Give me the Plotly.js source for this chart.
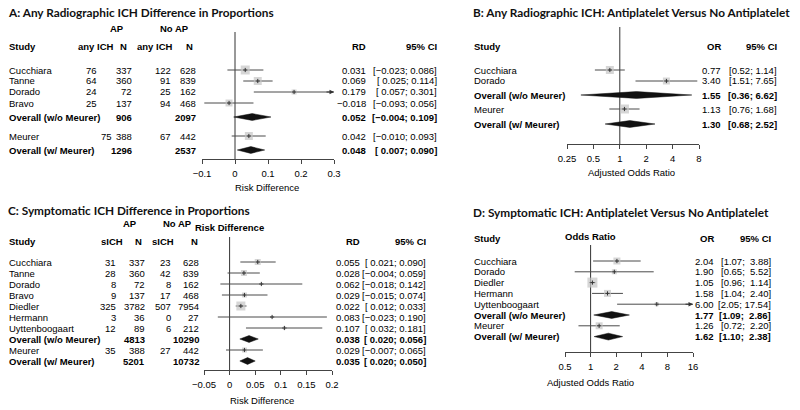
<!DOCTYPE html>
<html>
<head>
<meta charset="utf-8">
<script src="https://cdn.plot.ly/plotly-3.0.1.min.js"></script>
<style>
  html, body { margin: 0; padding: 0; background: #fff; }
  #chart { width: 800px; height: 410px; }
</style>
</head>
<body>
<div id="chart"></div>
<script>
// ---- A: any radiographic ICH, risk difference ----
const aStudy = ['Cucchiara', 'Tanne', 'Dorado', 'Bravo', 'Overall (w/o Meurer)', 'Meurer', 'Overall (w/ Meurer)'];
const aEvAP = [76, 64, 24, 25, null, 75, null];
const aNAP = [337, 360, 72, 137, 906, 388, 1296];
const aEvNo = [122, 91, 25, 94, null, 67, null];
const aNNo = [628, 839, 162, 468, 2097, 442, 2537];
const aEst = [0.031, 0.069, 0.179, -0.018, 0.052, 0.042, 0.048];
const aLo = [-0.023, 0.025, 0.057, -0.093, -0.004, -0.010, 0.007];
const aHi = [0.086, 0.114, 0.301, 0.056, 0.109, 0.093, 0.090];
const aBox = [9, 8, 5, 7, null, 8, null];
const aTicks = [-0.1, 0, 0.1, 0.2, 0.3];
const aTickText = ['\u22120.1', '0', '0.1', '0.2', '0.3'];

// ---- B: any radiographic ICH, adjusted OR ----
const bStudy = ['Cucchiara', 'Dorado', 'Overall (w/o Meurer)', 'Meurer', 'Overall (w/ Meurer)'];
const bEst = [0.77, 3.40, 1.55, 1.13, 1.30];
const bLo = [0.52, 1.51, 0.36, 0.76, 0.68];
const bHi = [1.14, 7.65, 6.62, 1.68, 2.52];
const bBox = [8, 7, null, 9, null];
const bTicks = [0.25, 0.5, 1, 2, 4, 8];

// ---- C: symptomatic ICH, risk difference ----
const cStudy = ['Cucchiara', 'Tanne', 'Dorado', 'Bravo', 'Diedler', 'Hermann', 'Uyttenboogaart',
  'Overall (w/o Meurer)', 'Meurer', 'Overall (w/ Meurer)'];
const cEvAP = [31, 28, 8, 9, 325, 3, 12, null, 35, null];
const cNAP = [337, 360, 72, 137, 3782, 36, 89, 4813, 388, 5201];
const cEvNo = [23, 42, 8, 17, 507, 0, 6, null, 27, null];
const cNNo = [628, 839, 162, 468, 7954, 27, 212, 10290, 442, 10732];
const cEst = [0.055, 0.028, 0.062, 0.029, 0.022, 0.083, 0.107, 0.038, 0.029, 0.035];
const cLo = [0.021, -0.004, -0.018, -0.015, 0.012, -0.023, 0.032, 0.020, -0.007, 0.020];
const cHi = [0.090, 0.059, 0.142, 0.074, 0.033, 0.190, 0.181, 0.056, 0.065, 0.050];
const cBox = [6, 6, 2, 5, 9, 2, 3, null, 5, null];
const cTicks = [-0.05, 0, 0.05, 0.1, 0.15, 0.2];
const cTickText = ['\u22120.05', '0', '0.05', '0.1', '0.15', '0.2'];

// ---- D: symptomatic ICH, adjusted OR ----
const dStudy = ['Cucchiara', 'Dorado', 'Diedler', 'Hermann', 'Uyttenboogaart',
  'Overall (w/o Meurer)', 'Meurer', 'Overall (w/ Meurer)'];
const dEst = [2.04, 1.90, 1.05, 1.58, 6.00, 1.77, 1.26, 1.62];
const dLo = [1.07, 0.65, 0.96, 1.04, 2.05, 1.09, 0.72, 1.10];
const dHi = [3.88, 5.52, 1.14, 2.40, 17.54, 2.86, 2.20, 2.38];
const dBox = [7, 5, 10, 7, 4, null, 7, null];
const dTicks = [0.5, 1, 2, 4, 8, 16];

const W = 800, H = 410;
const FONT = 'Liberation Sans, Arial, sans-serif';
const FS = 9.5;
const px = x => x / W;
const py = y => 1 - y / H;
const isOverall = s => s.startsWith('Overall');
const minus = v => (v < 0 ? '\u2212' : '') + Math.abs(v).toFixed(3);
const rdCI = (lo, hi) => '[' + (lo >= 0 ? '\u00a0' : '') + minus(lo) + '; ' + minus(hi) + ']';
const orCI = (lo, hi, w) => '[' + lo.toFixed(2) + '; ' + hi.toFixed(2).padStart(w, '\u00a0') + ']';

const annotations = [];
function txt(x, y, text, anchor, bold, size) {
  annotations.push({
    xref: 'paper', yref: 'paper', x: px(x), y: py(y),
    text: bold ? '<b>' + text + '</b>' : text,
    showarrow: false, xanchor: anchor, yanchor: 'middle', borderpad: 0,
    font: {family: FONT, size: size || FS, color: '#000'}
  });
}
function title(x, y, text) {
  annotations.push({
    xref: 'paper', yref: 'paper', x: px(x), y: py(y), text: '<b>' + text + '</b>',
    showarrow: false, xanchor: 'left', yanchor: 'middle', borderpad: 0,
    font: {family: 'Lato, Open Sans, sans-serif', size: 11.8, color: '#111'}
  });
}

const traces = [];
// one forest panel: null line, CI lines, weight boxes, diamonds, arrows
function forest(p) {
  const xa = p.ax === 1 ? 'x' : 'x' + p.ax;
  const ya = p.ax === 1 ? 'y' : 'y' + p.ax;
  const ciX = [], ciY = [], bx = [], by = [], bs = [], dx = [], dy = [];
  p.est.forEach((e, i) => {
    const r = p.rows[i];
    if (isOverall(p.study[i])) {
      dx.push(p.lo[i], e, p.hi[i], e, p.lo[i], null);
      dy.push(r, r - 3.4, r, r + 3.4, r, null);
    } else {
      const hi = Math.min(p.hi[i], p.xmax);
      ciX.push(p.lo[i], hi, null);
      ciY.push(r, r, null);
      bx.push(e); by.push(r); bs.push(p.box[i]);
      if (p.hi[i] > p.xmax) {
        annotations.push({
          xref: xa, yref: ya, x: p.log ? Math.log10(p.xmax) : p.xmax, y: r,
          ax: -9, ay: 0, showarrow: true, arrowhead: 2, arrowsize: 0.9,
          arrowwidth: 1, arrowcolor: '#333', standoff: 0, text: ''
        });
      }
    }
  });
  const base = {xaxis: xa, yaxis: ya, hoverinfo: 'skip', showlegend: false, cliponaxis: false};
  traces.push(Object.assign({type: 'scatter', mode: 'lines', x: [p.nul, p.nul], y: [p.lineTop, p.axisY],
    line: {color: '#333', width: 1}}, base));
  traces.push(Object.assign({type: 'scatter', mode: 'lines', x: ciX, y: ciY,
    line: {color: '#4a4a4a', width: 1}}, base));
  traces.push(Object.assign({type: 'scatter', mode: 'markers', x: bx, y: by,
    marker: {symbol: 'square', size: bs, color: '#c4c4c4', line: {width: 0}}}, base));
  traces.push(Object.assign({type: 'scatter', mode: 'markers', x: bx, y: by,
    marker: {symbol: 'cross-thin', size: 3, line: {width: 1, color: '#333'}}}, base));
  traces.push(Object.assign({type: 'scatter', mode: 'lines', x: dx, y: dy, fill: 'toself',
    fillcolor: '#111', line: {color: '#111', width: 0.5}}, base));
}

function axis(domain, range, ticks, ticktext, log) {
  return {
    domain: domain.map(v => v / W), range: log ? range.map(Math.log10) : range,
    type: log ? 'log' : 'linear', tickmode: 'array', tickvals: ticks, ticktext: ticktext,
    showline: true, linecolor: '#444', linewidth: 1, ticks: 'outside', ticklen: 4,
    tickwidth: 1, tickcolor: '#444', showgrid: false, zeroline: false, fixedrange: true,
    ticklabelstandoff: 2,
    tickfont: {family: FONT, size: FS, color: '#000'}
  };
}
function yaxis(bottom, top) {
  return {domain: [py(bottom), py(top)], range: [bottom, top], visible: false, fixedrange: true};
}

// ---------- Panel A ----------
const aRows = [70, 81, 92, 103, 117, 136, 150];
title(7, 12, 'A: Any Radiographic ICH Difference in Proportions');
txt(117, 29, 'AP', 'center', true); txt(174, 29, 'No AP', 'center', true);
txt(8, 47, 'Study', 'left', true);
txt(96, 47, 'any ICH', 'center', true); txt(123, 47, 'N', 'center', true);
txt(155, 47, 'any ICH', 'center', true); txt(189, 47, 'N', 'center', true);
txt(367, 47, 'RD', 'right', true); txt(438, 47, '95% CI', 'right', true);
aStudy.forEach((s, i) => {
  const y = aRows[i], b = isOverall(s);
  txt(8, y, s, 'left', b);
  if (aEvAP[i] !== null) txt(s === 'Meurer' ? 113 : 98, y, String(aEvAP[i]), 'right', b);
  txt(133, y, String(aNAP[i]), 'right', b);
  if (aEvNo[i] !== null) txt(172, y, String(aEvNo[i]), 'right', b);
  txt(197, y, String(aNNo[i]), 'right', b);
  txt(367, y, minus(aEst[i]), 'right', b);
  txt(438, y, rdCI(aLo[i], aHi[i]), 'right', b);
});
txt(267, 188, 'Risk Difference', 'center', false);
forest({ax: 1, study: aStudy, est: aEst, lo: aLo, hi: aHi, box: aBox, rows: aRows,
  xmax: 0.3, nul: 0, lineTop: 32, axisY: 159, log: false});

// ---------- Panel B ----------
const bRows = [70, 81, 95, 109, 124];
title(472, 12, 'B: Any Radiographic ICH: Antiplatelet Versus No Antiplatelet');
txt(473, 47, 'Study', 'left', true);
txt(722, 47, 'OR', 'right', true); txt(778, 47, '95% CI', 'right', true);
bStudy.forEach((s, i) => {
  const y = bRows[i], b = isOverall(s);
  txt(473, y, s, 'left', b);
  txt(722, y, bEst[i].toFixed(2), 'right', b);
  txt(778, y, orCI(bLo[i], bHi[i], 4), 'right', b);
});
txt(631, 173, 'Adjusted Odds Ratio', 'center', false);
forest({ax: 2, study: bStudy, est: bEst, lo: bLo, hi: bHi, box: bBox, rows: bRows,
  xmax: 8, nul: 1, lineTop: 27, axisY: 144, log: true});

// ---------- Panel C ----------
const cRows = cStudy.map((s, i) => 262 + 11 * i);
title(7, 210, 'C: Symptomatic ICH Difference in Proportions');
txt(130, 223, 'AP', 'center', true); txt(177, 223, 'No AP', 'center', true);
txt(230, 227, 'Risk Difference', 'center', true);
txt(8, 241, 'Study', 'left', true);
txt(112, 241, 'sICH', 'center', true); txt(138, 241, 'N', 'center', true);
txt(163, 241, 'sICH', 'center', true); txt(194, 241, 'N', 'center', true);
txt(361, 241, 'RD', 'right', true); txt(427, 241, '95% CI', 'right', true);
cStudy.forEach((s, i) => {
  const y = cRows[i], b = isOverall(s);
  txt(8, y, s, 'left', b);
  if (cEvAP[i] !== null) txt(117, y, String(cEvAP[i]), 'right', b);
  txt(146, y, String(cNAP[i]), 'right', b);
  if (cEvNo[i] !== null) txt(172, y, String(cEvNo[i]), 'right', b);
  txt(200, y, String(cNNo[i]), 'right', b);
  txt(361, y, minus(cEst[i]), 'right', b);
  txt(427, y, rdCI(cLo[i], cHi[i]), 'right', b);
});
txt(262, 400, 'Risk Difference', 'center', false);
forest({ax: 3, study: cStudy, est: cEst, lo: cLo, hi: cHi, box: cBox, rows: cRows,
  xmax: 0.2, nul: 0, lineTop: 237, axisY: 370, log: false});

// ---------- Panel D ----------
const dRows = dStudy.map((s, i) => 261 + 10.8 * i);
title(472, 212, 'D: Symptomatic ICH: Antiplatelet Versus No Antiplatelet');
txt(473, 239, 'Study', 'left', true);
txt(590, 237, 'Odds Ratio', 'center', true);
txt(715, 239, 'OR', 'right', true); txt(772, 239, '95% CI', 'right', true);
dStudy.forEach((s, i) => {
  const y = dRows[i], b = isOverall(s);
  txt(473, y, s, 'left', b);
  txt(715, y, dEst[i].toFixed(2), 'right', b);
  txt(772, y, orCI(dLo[i], dHi[i], 5), 'right', b);
});
txt(590, 382, 'Adjusted Odds Ratio', 'center', false);
forest({ax: 4, study: dStudy, est: dEst, lo: dLo, hi: dHi, box: dBox, rows: dRows,
  xmax: 16, nul: 1, lineTop: 245, axisY: 352, log: true});

const layout = {
  width: W, height: H, margin: {l: 0, r: 0, t: 0, b: 0},
  paper_bgcolor: '#fff', plot_bgcolor: 'rgba(0,0,0,0)', showlegend: false,
  xaxis: axis([202, 334], [-0.1, 0.3], aTicks, aTickText, false),
  yaxis: yaxis(159, 0),
  xaxis2: Object.assign(axis([567, 699], [0.25, 8], bTicks, bTicks.map(String), true), {anchor: 'y2'}),
  yaxis2: Object.assign(yaxis(144, 0), {anchor: 'x2'}),
  xaxis3: Object.assign(axis([204, 332], [-0.05, 0.2], cTicks, cTickText, false), {anchor: 'y3'}),
  yaxis3: Object.assign(yaxis(370, 195), {anchor: 'x3'}),
  xaxis4: Object.assign(axis([565, 693], [0.5, 16], dTicks, dTicks.map(String), true), {anchor: 'y4'}),
  yaxis4: Object.assign(yaxis(352, 195), {anchor: 'x4'}),
  annotations: annotations
};

Plotly.newPlot('chart', traces, layout, {displayModeBar: false, staticPlot: true});
</script>
</body>
</html>
